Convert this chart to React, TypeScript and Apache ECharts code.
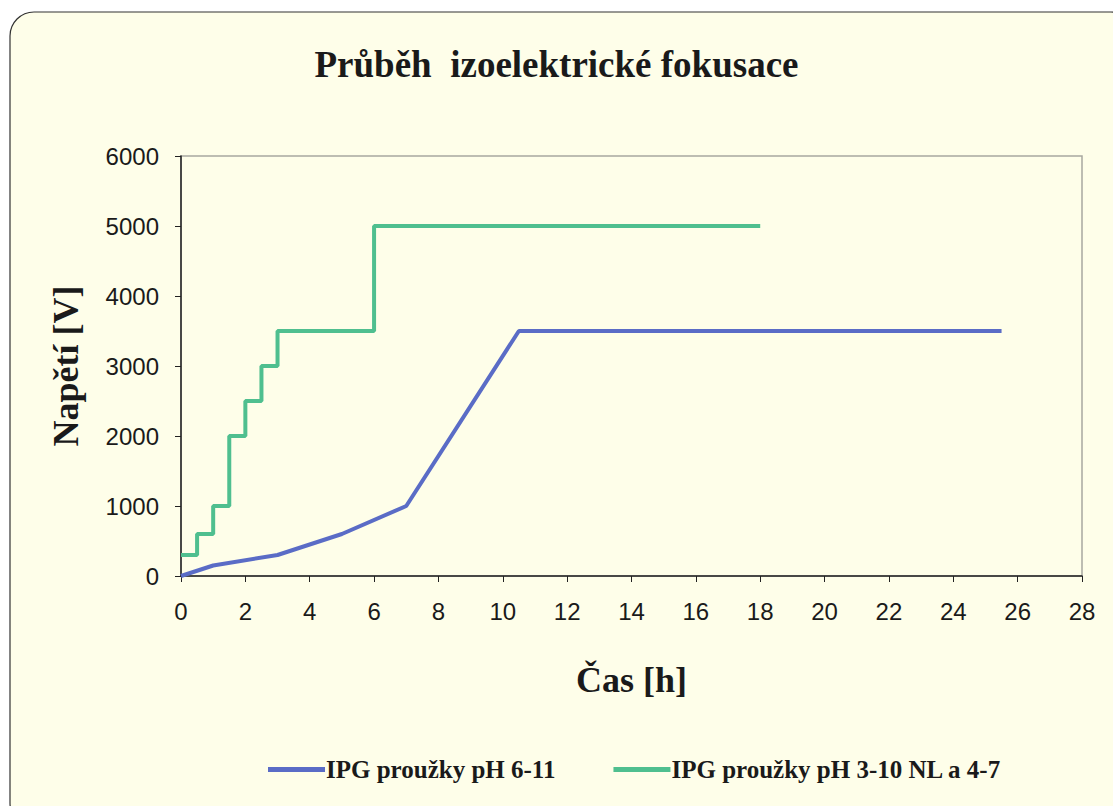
import React, { useEffect, useRef } from "react";
import * as echarts from "echarts";

const xTicks = [0, 2, 4, 6, 8, 10, 12, 14, 16, 18, 20, 22, 24, 26, 28];
const yTicks = [0, 1000, 2000, 3000, 4000, 5000, 6000];

const blueName = "IPG proužky pH 6-11";
const blueX = [0, 1, 3, 5, 7, 10.5, 25.5];
const blueY = [0, 150, 300, 600, 1000, 3500, 3500];

const greenName = "IPG proužky pH 3-10 NL a 4-7";
const greenX = [0, 0.5, 1, 1.5, 2, 2.5, 3, 6, 18];
const greenY = [300, 600, 1000, 2000, 2500, 3000, 3500, 5000, 5000];

const titleText = "Průběh  izoelektrické fokusace";
const xName = "Čas [h]";
const yName = "Napětí [V]";

const serif = "'Liberation Serif', 'Times New Roman', serif";
const sans = "'Liberation Sans', Arial, sans-serif";

export default function App() {
  const ref = useRef<HTMLDivElement>(null);
  useEffect(() => {
    document.body.style.margin = "0";
    const chart = echarts.init(ref.current!, null, { renderer: "svg" });
    const zip = (xs: number[], ys: number[]) => xs.map((x, i) => [x, ys[i]]);
    chart.setOption({
      animation: false,
      backgroundColor: "#ffffff",
      graphic: [
        {
          type: "rect",
          z: -10,
          silent: true,
          shape: { x: 10, y: 12, width: 1125, height: 815, r: 24 },
          style: { fill: "#fefee9", stroke: "#333", lineWidth: 1.2 },
        },
        {
          type: "text",
          left: "center",
          top: 46,
          style: {
            text: titleText,
            font: `bold 37px ${serif}`,
            fill: "#1a1a1a",
          },
        },
      ],
      grid: {
        left: 181,
        right: 31,
        top: 156,
        bottom: 230,
        show: true,
        borderColor: "#a8a8a0",
        borderWidth: 1.5,
        backgroundColor: "transparent",
      },
      legend: {
        left: 263,
        top: 752,
        itemGap: 58,
        itemWidth: 57,
        itemHeight: 5,
        icon: "rect",
        textStyle: {
          fontFamily: serif,
          fontWeight: "bold",
          fontSize: 25,
          color: "#1a1a1a",
          padding: [0, 0, 0, -4],
        },
        data: [blueName, greenName],
      },
      xAxis: {
        type: "value",
        min: 0,
        max: 28,
        interval: 2,
        name: xName,
        nameLocation: "middle",
        nameGap: 86,
        nameTextStyle: { fontFamily: serif, fontWeight: "bold", fontSize: 36, color: "#1a1a1a" },
        axisLine: { show: true, lineStyle: { color: "#222", width: 1.5 } },
        axisTick: { show: true, length: 6, lineStyle: { color: "#222" } },
        axisLabel: {
          margin: 23,
          fontFamily: sans,
          fontSize: 24,
          color: "#1a1a1a",
          formatter: (v: number) => (xTicks.includes(v) ? String(v) : ""),
        },
        splitLine: { show: false },
      },
      yAxis: {
        type: "value",
        min: 0,
        max: 6000,
        interval: 1000,
        name: yName,
        nameLocation: "middle",
        nameGap: 97,
        nameTextStyle: { fontFamily: serif, fontWeight: "bold", fontSize: 36, color: "#1a1a1a" },
        axisLine: { show: true, lineStyle: { color: "#222", width: 1.5 } },
        axisTick: { show: true, length: 6, lineStyle: { color: "#222" } },
        axisLabel: {
          margin: 22,
          fontFamily: sans,
          fontSize: 24,
          color: "#1a1a1a",
          formatter: (v: number) => (yTicks.includes(v) ? String(v) : ""),
        },
        splitLine: { show: false },
      },
      series: [
        {
          name: blueName,
          type: "line",
          data: zip(blueX, blueY),
          showSymbol: false,
          lineStyle: { color: "#5a6cc6", width: 4 },
          itemStyle: { color: "#5a6cc6" },
        },
        {
          name: greenName,
          type: "line",
          step: "end",
          data: zip(greenX, greenY),
          showSymbol: false,
          lineStyle: { color: "#4fbf8f", width: 4 },
          itemStyle: { color: "#4fbf8f" },
        },
      ],
    });
    return () => chart.dispose();
  }, []);
  return <div ref={ref} style={{ width: 1113, height: 806 }} />;
}
